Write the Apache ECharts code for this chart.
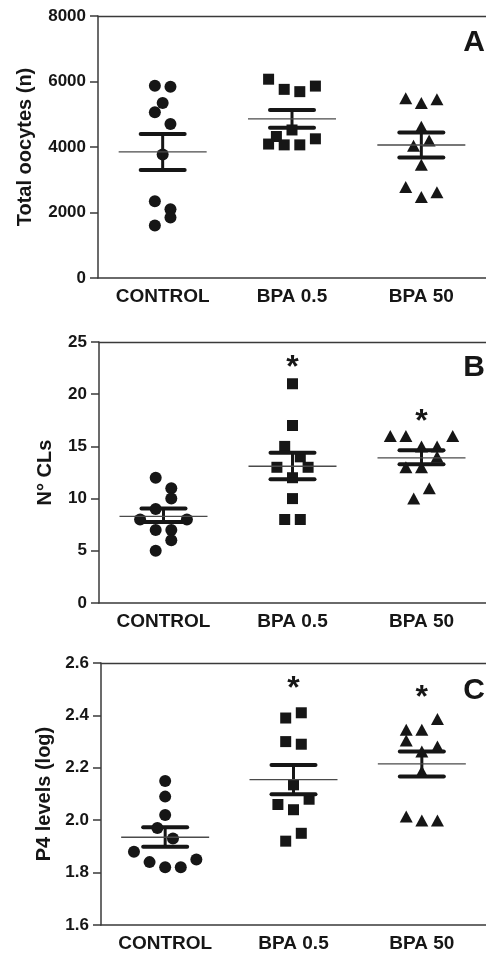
<!DOCTYPE html>
<html>
<head>
<meta charset="utf-8">
<script src="https://cdn.jsdelivr.net/npm/echarts@6/dist/echarts.min.js"></script>
<style>
  html, body { margin: 0; padding: 0; background: #fff; overflow: hidden; }
  #main { width: 486px; height: 954px; }
</style>
</head>
<body>
<div id="main"></div>
<script>
var groups = ['CONTROL', 'BPA 0.5', 'BPA 50']

// A - total oocytes
var oocControl = [5870, 5840, 5340, 5060, 4700, 3770, 2340, 2100, 1850, 1600]
var oocBpa05 = [6070, 5760, 5690, 5860, 4520, 4320, 4090, 4065, 4065, 4250]
var oocBpa50 = [5490, 5340, 5460, 4620, 4200, 4035, 3455, 2775, 2470, 2620]
var oocMean = [3850, 4860, 4060]
var oocSemLo = [3300, 4590, 3680]
var oocSemHi = [4400, 5130, 4440]

// B - number of CLs
var clControl = [12, 11, 10, 9, 8, 8, 7, 7, 6, 5]
var clBpa05 = [21, 17, 15, 14, 13, 13, 12, 10, 8, 8]
var clBpa50 = [16, 16, 16, 15, 15, 14, 13, 13, 11, 10]
var clMean = [8.3, 13.1, 13.9]
var clSemLo = [7.76, 11.85, 13.29]
var clSemHi = [9.04, 14.4, 14.63]

// C - P4 levels (log)
var p4Control = [2.15, 2.09, 2.02, 1.97, 1.93, 1.88, 1.84, 1.85, 1.82, 1.82]
var p4Bpa05 = [2.41, 2.39, 2.30, 2.29, 2.135, 2.08, 2.06, 2.04, 1.95, 1.92]
var p4Bpa50 = [2.345, 2.304, 2.345, 2.386, 2.281, 2.262, 2.186, 2.014, 1.999, 1.999]
var p4Mean = [1.935, 2.155, 2.215]
var p4SemLo = [1.899, 2.099, 2.167]
var p4SemHi = [1.973, 2.211, 2.262]

// significance stars (group index, value where star sits)
var starsB = [[1, 23.3], [2, 18.04]]
var starsC = [[1, 2.53], [2, 2.498]]

// horizontal spreading of the dots (column slot, not data)
var slotA = [[-1, 1, 0, -1, 1, 0, -1, 1, 1, -1], [-3, -1, 1, 3, 0, -2, -3, -1, 1, 3], [-2, 0, 2, 0, 1, -1, 0, -2, 0, 2]]
var slotB = [[-1, 1, 1, -1, -3, 3, -1, 1, 1, -1], [0, 0, -1, 1, -2, 2, 0, 0, -1, 1], [-4, -2, 4, 0, 2, 2, -2, 0, 1, -1]]
var slotC = [[0, 0, 0, -1, 1, -4, -2, 4, 0, 2], [1, -1, -1, 1, 0, 2, -2, 0, 1, -1], [-2, -2, 0, 2, 2, 0, 0, -2, 0, 2]]

var FONT = 'Liberation Sans, Arial, Helvetica, sans-serif'
var INK = '#161616'
var AXIS = '#3a3a3a'
var SLOT = 7.8
var symbols = ['circle', 'rect', 'triangle']
var symSizes = [12, 11, [13, 12]]

function dots(vals, slots, g) {
  return vals.map(function (v, i) {
    return { value: [g, v], symbolOffset: [slots[i] * SLOT, 0] }
  })
}

function renderErr(params, api) {
  var c = api.value(0)
  var m = api.coord([c, api.value(1)])
  var lo = api.coord([c, api.value(2)])
  var hi = api.coord([c, api.value(3)])
  return {
    type: 'group',
    children: [
      { type: 'line', shape: { x1: lo[0], y1: lo[1], x2: hi[0], y2: hi[1] }, style: { stroke: INK, lineWidth: 3 } },
      { type: 'line', shape: { x1: lo[0] - 22, y1: lo[1], x2: lo[0] + 22, y2: lo[1] }, style: { stroke: INK, lineWidth: 4, lineCap: 'round' } },
      { type: 'line', shape: { x1: hi[0] - 22, y1: hi[1], x2: hi[0] + 22, y2: hi[1] }, style: { stroke: INK, lineWidth: 4, lineCap: 'round' } },
      { type: 'line', shape: { x1: m[0] - 44, y1: m[1], x2: m[0] + 44, y2: m[1] }, style: { stroke: '#4a4a4a', lineWidth: 1.4 } }
    ]
  }
}

function renderStar(params, api) {
  var p = api.coord([api.value(0), api.value(1)])
  return {
    type: 'text',
    x: p[0],
    y: p[1] + 8,
    style: { text: '*', font: 'bold 32px ' + FONT, fill: INK, align: 'center', verticalAlign: 'middle' }
  }
}

var grids = [
  { left: 98, top: 16, width: 393, height: 262 },
  { left: 99, top: 342, width: 393, height: 261 },
  { left: 101, top: 663, width: 393, height: 262 }
]

var xAxes = []
for (var i = 0; i < 3; i++) {
  xAxes.push({
    type: 'category',
    gridIndex: i,
    data: groups,
    axisLine: { lineStyle: { color: AXIS, width: 1.5 } },
    axisTick: { alignWithLabel: true, length: 7, lineStyle: { color: AXIS, width: 1.5 } },
    axisLabel: { margin: 9, fontSize: 19, fontWeight: 'bold', color: INK, fontFamily: FONT },
    splitLine: { show: false }
  })
}
// top frame line of each panel
for (var i = 0; i < 3; i++) {
  xAxes.push({
    type: 'category',
    gridIndex: i,
    position: 'top',
    data: groups,
    axisLine: { lineStyle: { color: AXIS, width: 1.3 } },
    axisTick: { show: false },
    axisLabel: { show: false },
    splitLine: { show: false }
  })
}

var yNames = ['Total oocytes (n)', 'N° CLs', 'P4 levels (log)']
var yGaps = [63, 44, 46]
var yMin = [0, 0, 1.6]
var yMax = [8000, 25, 2.6]
var yStep = [2000, 5, 0.2]
var yFmt = [
  function (v) { return String(v) },
  function (v) { return String(v) },
  function (v) { return v.toFixed(1) }
]
var yAxes = [0, 1, 2].map(function (i) {
  return {
    type: 'value',
    gridIndex: i,
    min: yMin[i],
    max: yMax[i],
    interval: yStep[i],
    name: yNames[i],
    nameLocation: 'middle',
    nameGap: yGaps[i],
    nameTextStyle: { fontSize: 20, fontWeight: 'bold', color: INK, fontFamily: FONT },
    axisLine: { show: true, lineStyle: { color: AXIS, width: 1.5 } },
    axisTick: { show: true, length: 8, lineStyle: { color: AXIS, width: 1.5 } },
    axisLabel: { margin: 12, fontSize: 17, fontWeight: 'bold', color: INK, fontFamily: FONT, formatter: yFmt[i] },
    splitLine: { show: false }
  }
})

var panels = [
  { vals: [oocControl, oocBpa05, oocBpa50], slots: slotA, mean: oocMean, lo: oocSemLo, hi: oocSemHi, stars: [] },
  { vals: [clControl, clBpa05, clBpa50], slots: slotB, mean: clMean, lo: clSemLo, hi: clSemHi, stars: starsB },
  { vals: [p4Control, p4Bpa05, p4Bpa50], slots: slotC, mean: p4Mean, lo: p4SemLo, hi: p4SemHi, stars: starsC }
]

var series = []
panels.forEach(function (p, k) {
  for (var g = 0; g < 3; g++) {
    series.push({
      type: 'scatter',
      xAxisIndex: k,
      yAxisIndex: k,
      symbol: symbols[g],
      symbolSize: symSizes[g],
      itemStyle: { color: INK, opacity: 1 },
      data: dots(p.vals[g], p.slots[g], g),
      z: 2
    })
  }
  series.push({
    type: 'custom',
    xAxisIndex: k,
    yAxisIndex: k,
    renderItem: renderErr,
    data: p.mean.map(function (m, g) { return [g, m, p.lo[g], p.hi[g]] }),
    z: 5
  })
  if (p.stars.length) {
    series.push({
      type: 'custom',
      xAxisIndex: k,
      yAxisIndex: k,
      renderItem: renderStar,
      data: p.stars,
      z: 6
    })
  }
})

var letters = [['A', 43], ['B', 368], ['C', 691]]
var graphic = letters.map(function (l) {
  return {
    type: 'text',
    x: 474,
    y: l[1],
    style: { text: l[0], font: 'bold 30px ' + FONT, fill: INK, align: 'center', verticalAlign: 'middle' },
    z: 10
  }
})

var mychart = echarts.init(document.getElementById('main'), null, { renderer: 'canvas' })
mychart.setOption({
  animation: false,
  backgroundColor: '#fff',
  grid: grids,
  xAxis: xAxes,
  yAxis: yAxes,
  series: series,
  graphic: graphic
})
</script>
</body>
</html>
